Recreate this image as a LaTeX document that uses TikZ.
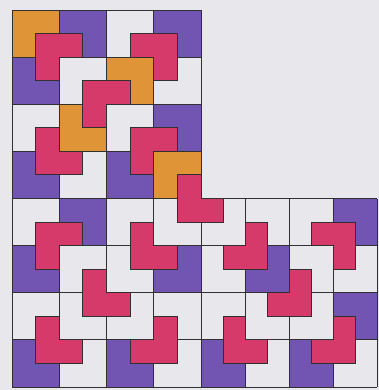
\documentclass[tikz,border=0pt]{standalone}
\definecolor{paper}{HTML}{E8E8EC}
\definecolor{orng}{HTML}{DF9438}
\definecolor{viol}{HTML}{7254B3}
\definecolor{pnk}{HTML}{D63A6B}
\definecolor{ink}{HTML}{303030}
\newcommand\plBR[2]{\path[pinkL] ({hx(#1-1)},{hy(#2-1)}) -- ({hx(#1+1)},{hy(#2-1)}) -- ({hx(#1+1)},{hy(#2)}) -- ({hx(#1)},{hy(#2)}) -- ({hx(#1)},{hy(#2+1)}) -- ({hx(#1-1)},{hy(#2+1)}) -- cycle;}
\newcommand\plTR[2]{\path[pinkL] ({hx(#1-1)},{hy(#2-1)}) -- ({hx(#1)},{hy(#2-1)}) -- ({hx(#1)},{hy(#2)}) -- ({hx(#1+1)},{hy(#2)}) -- ({hx(#1+1)},{hy(#2+1)}) -- ({hx(#1-1)},{hy(#2+1)}) -- cycle;}
\newcommand\plBL[2]{\path[pinkL] ({hx(#1-1)},{hy(#2-1)}) -- ({hx(#1+1)},{hy(#2-1)}) -- ({hx(#1+1)},{hy(#2+1)}) -- ({hx(#1)},{hy(#2+1)}) -- ({hx(#1)},{hy(#2)}) -- ({hx(#1-1)},{hy(#2)}) -- cycle;}
\newcommand\plTL[2]{\path[pinkL] ({hx(#1)},{hy(#2-1)}) -- ({hx(#1+1)},{hy(#2-1)}) -- ({hx(#1+1)},{hy(#2+1)}) -- ({hx(#1-1)},{hy(#2+1)}) -- ({hx(#1-1)},{hy(#2)}) -- ({hx(#1)},{hy(#2)}) -- cycle;}
\begin{document}
\begin{tikzpicture}[x=1pt,y=1pt,
  declare function={hx(\i)=(\i<=8)*(12+23.625*\i)+(\i>8)*(201+22*(\i-8)); hy(\j)=-(10+23.5625*\j);},
  gridline/.style={draw=ink, line width=0.9pt},
  pinkL/.style={fill=pnk, draw=ink, line width=0.9pt}]
\fill[paper] (0,0) rectangle (379,-390);
\useasboundingbox (0,0) rectangle (379,-390);
% coloured big squares
\foreach \bx/\by in {0/0,2/1,1/2,3/3}
  \fill[orng] ({hx(2*\bx)},{hy(2*\by)}) rectangle ({hx(2*\bx+2)},{hy(2*\by+2)});
\foreach \bx/\by in {1/0,3/0,0/1,3/2,0/3,2/3,1/4,7/4,0/5,3/5,5/5,7/6,0/7,2/7,4/7,6/7}
  \fill[viol] ({hx(2*\bx)},{hy(2*\by)}) rectangle ({hx(2*\bx+2)},{hy(2*\by+2)});
% grid
\foreach \c in {0,2,4,6,8} \draw[gridline] ({hx(\c)},{hy(0)}) -- ({hx(\c)},{hy(16)});
\foreach \c in {10,12,14,16} \draw[gridline] ({hx(\c)},{hy(8)}) -- ({hx(\c)},{hy(16)});
\foreach \r in {0,2,4,6} \draw[gridline] ({hx(0)},{hy(\r)}) -- ({hx(8)},{hy(\r)});
\foreach \r in {8,10,12,14,16} \draw[gridline] ({hx(0)},{hy(\r)}) -- ({hx(16)},{hy(\r)});
% pink L shapes
\plBR{2}{2}
\plBL{6}{2}
\plBR{4}{4}
\plTR{2}{6}
\plBR{6}{6}
\plTR{8}{8}
\plBR{2}{10}
\plTR{6}{10}
\plTR{4}{12}
\plTR{2}{14}
\plTL{6}{14}
\plTL{10}{10}
\plBL{14}{10}
\plTL{12}{12}
\plTR{10}{14}
\plTL{14}{14}
\end{tikzpicture}
\end{document}
